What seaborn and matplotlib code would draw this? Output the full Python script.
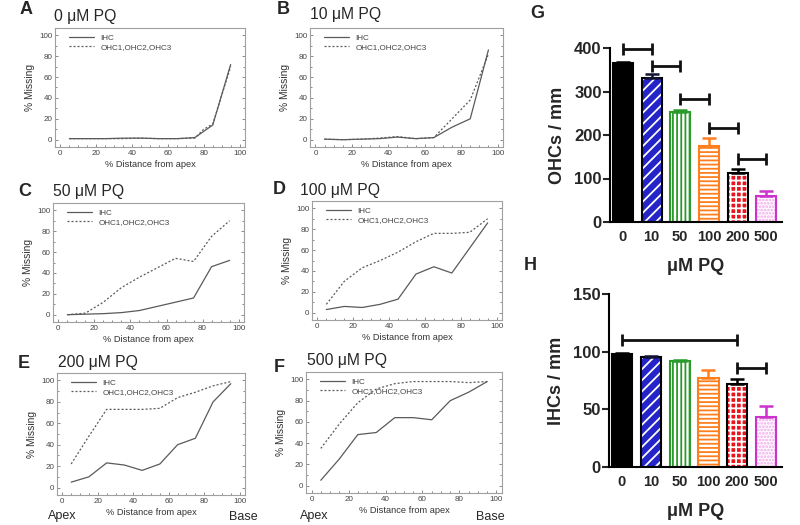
import numpy as np
import pandas as pd
import matplotlib
matplotlib.use('Agg')
import matplotlib.pyplot as plt
from matplotlib.patches import Rectangle
from matplotlib.ticker import MultipleLocator
import seaborn as sns

sns.set_style('ticks')
plt.rcParams['font.family'] = ['Liberation Sans', 'DejaVu Sans']
plt.rcParams['hatch.linewidth'] = 1.3

# ---- data: % missing along the cochlea (A-F) ----
pos = [5, 15, 25, 35, 45, 55, 65, 75, 85, 95]
pos_a = [5, 15, 25, 35, 45, 55, 65, 75, 80, 85, 95]

ihc_a = [1, 1, 1, 1.5, 1.5, 1, 1, 2, 8, 14, 72]
ohc_a = [1, 1, 1, 1, 1.5, 1, 1, 1.5, 10, 15, 70]
ihc_b = [0.5, 0, 0.5, 1, 2.5, 1, 2, 12, 20, 86]
ohc_b = [0.5, 0, 0.5, 1.5, 3, 1, 2, 20, 38, 82]
ihc_c = [0, 0.5, 1, 2, 4, 8, 12, 16, 46, 52]
ohc_c = [0, 1.5, 12, 26, 36, 45, 54, 51, 75, 90]
ihc_d = [3, 6, 5, 8, 13, 37, 44, 38, 62, 86]
ohc_d = [8, 30, 43, 50, 58, 68, 76, 76, 77, 90]
ihc_e = [5, 10, 23, 21, 16, 22, 40, 46, 80, 97]
ohc_e = [22, 48, 73, 73, 73, 74, 84, 89, 95, 99]
ihc_f = [5, 25, 48, 50, 64, 64, 62, 80, 88, 98]
ohc_f = [35, 58, 78, 91, 96, 98, 98, 98, 97, 98]

# ---- data: hair cell counts (G, H) ----
conc = ['0', '10', '50', '100', '200', '500']
ohc_mean = [366, 332, 252, 175, 112, 59]
ohc_sem = [2, 8, 6, 19, 9, 12]
ihc_mean = [98, 95.5, 91.5, 77, 72, 43]
ihc_sem = [0.5, 0.8, 1.2, 7, 4.5, 10]
brackets_g = [(0, 1, 398), (1, 2, 359), (2, 3, 283), (3, 4, 216), (4, 5, 145)]
brackets_h = [(0, 4, 110.5), (4, 5, 85.5)]

face_cols = ['black', '#2424c8', 'white', 'white', '#e8141e', 'white']
hatch_cols = ['black', 'white', '#2a9a2a', '#ff7f1e', 'white', '#f2a6ee']
outline_cols = ['black', 'black', '#2a9a2a', '#ff7f1e', 'black', '#cc33cc']
err_cols = ['black', '#111133', '#2a9a2a', '#ff7f1e', 'black', '#cc33cc']
hatches = [None, '///', '||||', '----', '+++', '.....']

W, H = 800, 525


def box(l, t, r, b):
    return [l / W, 1 - b / H, (r - l) / W, (b - t) / H]


def ftext(x, y, s, **kw):
    fig.text(x / W, 1 - y / H, s, va='center', **kw)


fig = plt.figure(figsize=(8, 5.25), dpi=100)

panels = [
    ('A', '0 μM PQ', pos_a, ihc_a, ohc_a, (55, 28, 245, 147), (20, 10), (54, 16)),
    ('B', '10 μM PQ', pos, ihc_b, ohc_b, (310, 28, 503, 147), (277, 9), (310, 14)),
    ('C', '50 μM PQ', pos, ihc_c, ohc_c, (53, 203, 244, 322), (18, 192), (53, 192)),
    ('D', '100 μM PQ', pos, ihc_d, ohc_d, (312, 201, 502, 320), (273, 190), (300, 190)),
    ('E', '200 μM PQ', pos, ihc_e, ohc_e, (57, 373, 245, 495), (18, 364), (58, 362)),
    ('F', '500 μM PQ', pos, ihc_f, ohc_f, (306, 372, 502, 493), (274, 368), (307, 361)),
]

for letter, title, xs, ihc, ohc, bx, lxy, txy in panels:
    ax = fig.add_axes(box(*bx))
    df = pd.DataFrame({
        'pos': xs + xs,
        'pct': ihc + ohc,
        'cell': ['IHC'] * len(xs) + ['OHC1,OHC2,OHC3'] * len(xs),
    })
    sns.lineplot(data=df, x='pos', y='pct', style='cell',
                 dashes={'IHC': '', 'OHC1,OHC2,OHC3': (1.6, 1.6)},
                 color='#5a5a5a', linewidth=0.9, ax=ax)
    ax.set_xlim(-3, 103)
    ax.set_ylim(-7, 107)
    ax.set_xticks(range(0, 101, 20))
    ax.set_yticks(range(0, 101, 20))
    ax.xaxis.set_minor_locator(MultipleLocator(5))
    ax.yaxis.set_minor_locator(MultipleLocator(10))
    ax.tick_params(which='both', labelsize=5.8, colors='#777', labelcolor='#444',
                   direction='in', right=True, length=2.5, width=0.6, pad=2)
    ax.tick_params(which='minor', length=1.5)
    for sp in ax.spines.values():
        sp.set_color('#a0a0a0')
        sp.set_linewidth(0.8)
    ax.set_xlabel('% Distance from apex', fontsize=6.7, color='#333', labelpad=2)
    ax.set_ylabel('% Missing', fontsize=7.4, color='#333', labelpad=3)
    leg = ax.get_legend()
    handles = leg.legend_handles
    labels = [t.get_text() for t in leg.get_texts()]
    ax.legend(handles, labels, loc='upper left', frameon=False, fontsize=5.9,
              handlelength=3, borderaxespad=0.4, labelspacing=0.15,
              labelcolor='#444', bbox_to_anchor=(0.04, 1.0))
    ftext(lxy[0], lxy[1], letter, fontsize=13, fontweight='bold')
    ftext(txy[0], txy[1], title, fontsize=11.3)

ftext(62, 516, 'Apex', fontsize=9, ha='center')
ftext(243, 517, 'Base', fontsize=9, ha='center')
ftext(314, 516, 'Apex', fontsize=9, ha='center')
ftext(490, 517, 'Base', fontsize=9, ha='center')


def bar_panel(ax, means, sems, brackets, ymax, step, ylabel):
    sns.barplot(x=conc, y=means, hue=conc, order=conc, hue_order=conc,
                palette=face_cols, width=0.7, legend=False, errorbar=None,
                saturation=1, ax=ax)
    bars = ax.patches[:len(conc)]
    for p, fc, hc, oc, h in zip(bars, face_cols, hatch_cols, outline_cols, hatches):
        p.set_facecolor(fc)
        p.set_edgecolor(hc)
        p.set_linewidth(0)
        if h:
            p.set_hatch(h)
        # outline drawn separately so the hatch can have its own colour
        ax.add_patch(Rectangle((p.get_x(), p.get_y()), p.get_width(),
                               p.get_height(), fill=False, ec=oc,
                               lw=1.5, zorder=p.get_zorder() + 0.1))
    xs = [p.get_x() + p.get_width() / 2 for p in bars]
    for x, m, s, c in zip(xs, means, sems, err_cols):
        ax.errorbar(x, m, yerr=[[0], [s]], fmt='none', ecolor=c,
                    elinewidth=1.8, capsize=5, capthick=1.8, zorder=5)
    for i, j, y in brackets:
        ax.plot([xs[i], xs[j]], [y, y], color='#111', lw=2, marker='|',
                ms=8, mew=2, clip_on=False, solid_capstyle='butt', zorder=6)
    ax.set_xlim(-0.45, 5.55)
    ax.set_ylim(0, ymax)
    ax.set_yticks(np.arange(0, ymax + 1, step))
    sns.despine(ax=ax)
    for sp in ('left', 'bottom'):
        ax.spines[sp].set_linewidth(1.5)
        ax.spines[sp].set_color('black')
    ax.tick_params(axis='y', length=5, width=1.5, labelsize=12, pad=1)
    ax.tick_params(axis='x', length=0, labelsize=10.5, pad=6)
    for lbl in ax.get_xticklabels() + ax.get_yticklabels():
        lbl.set_fontweight('bold')
    ax.set_ylabel(ylabel, fontsize=13, fontweight='bold', labelpad=6)
    ax.set_xlabel('μM PQ', fontsize=13, fontweight='bold', labelpad=10)


ax_g = fig.add_axes(box(610, 48, 782, 222))
bar_panel(ax_g, ohc_mean, ohc_sem, brackets_g, 400, 100, 'OHCs / mm')
ax_h = fig.add_axes(box(609, 294, 782, 467))
bar_panel(ax_h, ihc_mean, ihc_sem, brackets_h, 150, 50, 'IHCs / mm')

ftext(530, 14, 'G', fontsize=13, fontweight='bold')
ftext(524, 266, 'H', fontsize=13, fontweight='bold')

fig.savefig('out.png', dpi=100)
